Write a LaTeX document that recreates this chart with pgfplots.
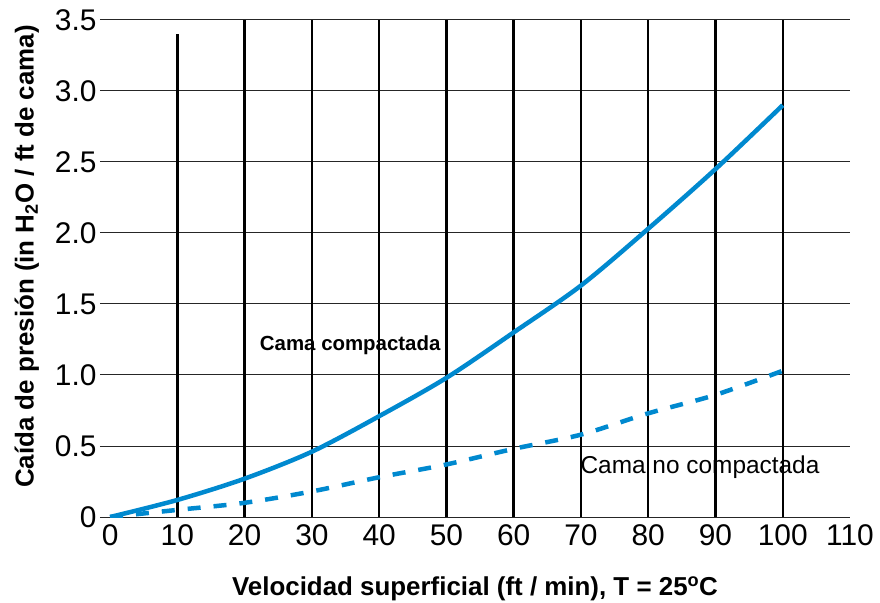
\documentclass[border=0pt]{standalone}
\usepackage{pgfplots}
\pgfplotsset{compat=1.18}
\usepackage{fontspec}
\setmainfont{Liberation Sans}
\definecolor{curveblue}{RGB}{0,137,207}

\begin{document}
\begin{tikzpicture}
\begin{axis}[
    scale only axis,
    width=750bp, height=497bp,
    xmin=-1.5, xmax=110,
    ymin=0, ymax=3.5,
    axis line style={draw=none},
    xtick={0,10,20,30,40,50,60,70,80,90,100,110},
    ytick={0,0.5,1,1.5,2,2.5,3,3.5},
    yticklabels={0,0.5,1.0,1.5,2.0,2.5,3.0,3.5},
    major tick length=0pt,
    ymajorgrids,
    major grid style={black!85, line width=1bp},
    extra x ticks={20,30,40,50,60,70,80,90,100},
    extra x tick labels={},
    extra x tick style={grid=major, major grid style={black, line width=2.4bp}},
    tick label style={font=\fontsize{30}{30}\selectfont},
    xticklabel style={yshift=-4bp},
    /pgf/number format/assume math mode=true,
    xlabel={\bfseries Velocidad superficial (ft / min), T = 25\textsuperscript{o}C},
    ylabel={\bfseries Caída de presión (in H\textsubscript{2}O / ft de cama)},
    label style={font=\fontsize{26}{26}\selectfont},
    xlabel style={yshift=-24bp},
    ylabel style={yshift=9bp, xshift=12bp},
]
\draw[black, line width=2.4bp] (axis cs:10,0) -- (axis cs:10,3.4);
\addplot[curveblue, line width=4.5bp, smooth] coordinates {
    (0,0) (10,0.12) (20,0.27) (30,0.46) (40,0.71) (50,0.98)
    (60,1.30) (70,1.63) (80,2.03) (90,2.45) (100,2.90)};
\addplot[curveblue, line width=4.5bp, smooth, dash pattern=on 13bp off 13bp] coordinates {
    (0,0) (10,0.05) (20,0.10) (30,0.18) (40,0.28) (50,0.37)
    (60,0.48) (70,0.58) (80,0.73) (90,0.86) (100,1.03)};
\node[font=\bfseries\fontsize{20.5}{20.5}\selectfont] at (axis cs:35.7,1.21) {Cama compactada};
\node[font=\fontsize{24.5}{24.5}\selectfont] at (axis cs:87.7,0.35) {Cama no compactada};
\end{axis}
\pgfresetboundingbox
\path[use as bounding box] (-100bp,-86bp) rectangle (780bp,517bp);
\end{tikzpicture}
\end{document}
